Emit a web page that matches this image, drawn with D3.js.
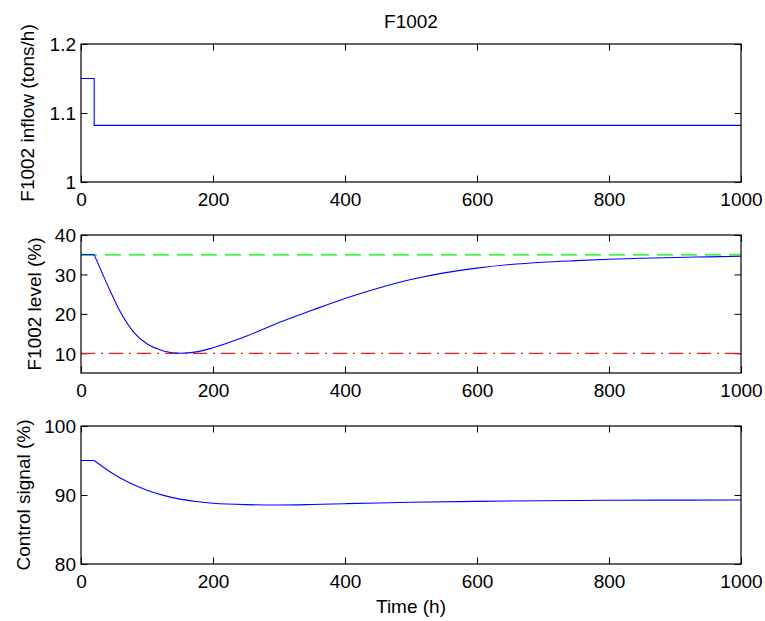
<!DOCTYPE html>
<html>
<head>
<meta charset="utf-8">
<script src="https://cdn.jsdelivr.net/npm/d3@7"></script>
<style>
  html, body { margin: 0; padding: 0; background: #fff; }
  svg { display: block; font-family: "Liberation Sans", Arial, Helvetica, sans-serif; }
</style>
</head>
<body>
<svg id="chart" width="765" height="621"></svg>
<script>
// Simulation of tank F1002: inflow disturbance, level response, controller output
const xTicks = [0, 200, 400, 600, 800, 1000];

const inflowTime = [0, 20, 1000];
const inflowValue = [1.15, 1.082, 1.082];
const inflowTicks = [1, 1.1, 1.2];

const levelTime = [0, 20, 33, 45, 57, 70, 80, 100, 125, 150, 175, 200, 250, 300, 350, 400, 450, 500, 550, 600, 650, 700, 750, 800, 850, 900, 950, 1000];
const levelValue = [35, 35, 30, 25.5, 21.3, 17.6, 15.3, 12.4, 10.6, 10.0, 10.35, 11.4, 14.3, 17.8, 20.9, 23.9, 26.5, 28.7, 30.4, 31.6, 32.5, 33.1, 33.5, 33.85, 34.1, 34.3, 34.45, 34.6];
const levelHigh = 35;
const levelLow = 10;
const levelTicks = [10, 20, 30, 40];

const controlTime = [0, 20, 49, 75, 100, 125, 150, 175, 200, 250, 300, 350, 400, 450, 500, 600, 700, 800, 900, 1000];
const controlValue = [95, 95, 93.05, 91.7, 90.7, 89.95, 89.4, 89.05, 88.8, 88.6, 88.55, 88.62, 88.74, 88.85, 88.94, 89.08, 89.17, 89.23, 89.26, 89.28];
const controlTicks = [80, 90, 100];

const svg = d3.select("#chart");
const left = 81, right = 741;
const fontSize = 19;
const tickLen = 6.5;

const x = d3.scaleLinear().domain([0, 1000]).range([left, right]);

function panel(top, bottom, yDomain, yTicks, yFormat, ylabel, ylabelX) {
  const y = d3.scaleLinear().domain(yDomain).range([bottom, top]);
  const g = svg.append("g");

  // inward ticks on all four sides of a boxed axes
  const gb = g.append("g").attr("transform", `translate(0,${bottom})`)
    .call(d3.axisBottom(x).tickValues(xTicks).tickSize(-tickLen).tickFormat(d3.format("d")));
  const gt = g.append("g").attr("transform", `translate(0,${top})`)
    .call(d3.axisTop(x).tickValues(xTicks).tickSize(-tickLen).tickFormat(""));
  const gl = g.append("g").attr("transform", `translate(${left},0)`)
    .call(d3.axisLeft(y).tickValues(yTicks).tickSize(-tickLen).tickFormat(yFormat));
  const gr = g.append("g").attr("transform", `translate(${right},0)`)
    .call(d3.axisRight(y).tickValues(yTicks).tickSize(-tickLen).tickFormat(""));

  [gb, gt, gl, gr].forEach(a => {
    a.select(".domain").remove();
    a.selectAll(".tick line").attr("stroke", "#000").attr("stroke-width", 1);
    a.selectAll(".tick text").attr("font-size", fontSize).attr("fill", "#000")
      .attr("font-family", "Liberation Sans, Arial, sans-serif");
  });
  gb.selectAll(".tick text").attr("dy", null).attr("y", 24);
  gl.selectAll(".tick text").attr("x", -5).attr("dy", "0.36em");

  g.append("text")
    .attr("transform", `translate(${ylabelX},${(top + bottom) / 2}) rotate(-90)`)
    .attr("text-anchor", "middle")
    .attr("font-size", fontSize)
    .text(ylabel);

  return { g, y, top, bottom };
}

function box(p) {
  p.g.append("rect")
    .attr("x", left).attr("y", p.top)
    .attr("width", right - left).attr("height", p.bottom - p.top)
    .attr("fill", "none").attr("stroke", "#000").attr("stroke-width", 1.2);
}

// draws a held-flat start followed by a smooth response
function response(p, times, values, holdUntil) {
  const pts = times.map((t, i) => [t, values[i]]);
  const k = times.indexOf(holdUntil);
  const line = d3.line().x(d => x(d[0])).y(d => p.y(d[1]));
  p.g.append("path")
    .datum(pts.slice(0, k + 1))
    .attr("fill", "none").attr("stroke", "#0000ff").attr("stroke-width", 1.1)
    .attr("d", line);
  p.g.append("path")
    .datum(pts.slice(k))
    .attr("fill", "none").attr("stroke", "#0000ff").attr("stroke-width", 1.1)
    .attr("d", line.curve(d3.curveMonotoneX));
}

// Panel 1: inflow
const p1 = panel(44, 182, [1, 1.2], inflowTicks, d => d === 1 ? "1" : d3.format(".1f")(d), "F1002 inflow (tons/h)", 34);
const inflowPts = inflowTime.map((t, i) => [t, inflowValue[i]]);
p1.g.append("path")
  .datum(inflowPts)
  .attr("fill", "none").attr("stroke", "#0000ff").attr("stroke-width", 1.1)
  .attr("d", d3.line().x(d => x(d[0])).y(d => p1.y(d[1])).curve(d3.curveStepAfter));
box(p1);

// Panel 2: level with high / low limits
const p2 = panel(235, 373, [5, 40], levelTicks, d3.format("d"), "F1002 level (%)", 41);
p2.g.append("line")
  .attr("x1", x(0)).attr("x2", x(1000))
  .attr("y1", p2.y(levelHigh)).attr("y2", p2.y(levelHigh))
  .attr("stroke", "#55ee55").attr("stroke-width", 2).attr("stroke-dasharray", "16,8");
p2.g.append("line")
  .attr("x1", x(0)).attr("x2", x(1000))
  .attr("y1", p2.y(levelLow)).attr("y2", p2.y(levelLow))
  .attr("stroke", "#e02020").attr("stroke-width", 1.3).attr("stroke-dasharray", "14,6,2,6");
response(p2, levelTime, levelValue, 20);
box(p2);

// Panel 3: controller output
const p3 = panel(426, 564, [80, 100], controlTicks, d3.format("d"), "Control signal (%)", 30);
response(p3, controlTime, controlValue, 20);
box(p3);

// Title and shared x label
svg.append("text")
  .attr("x", (left + right) / 2).attr("y", 28)
  .attr("text-anchor", "middle").attr("font-size", fontSize)
  .text("F1002");
svg.append("text")
  .attr("x", (left + right) / 2).attr("y", 613)
  .attr("text-anchor", "middle").attr("font-size", fontSize)
  .text("Time (h)");
</script>
</body>
</html>
